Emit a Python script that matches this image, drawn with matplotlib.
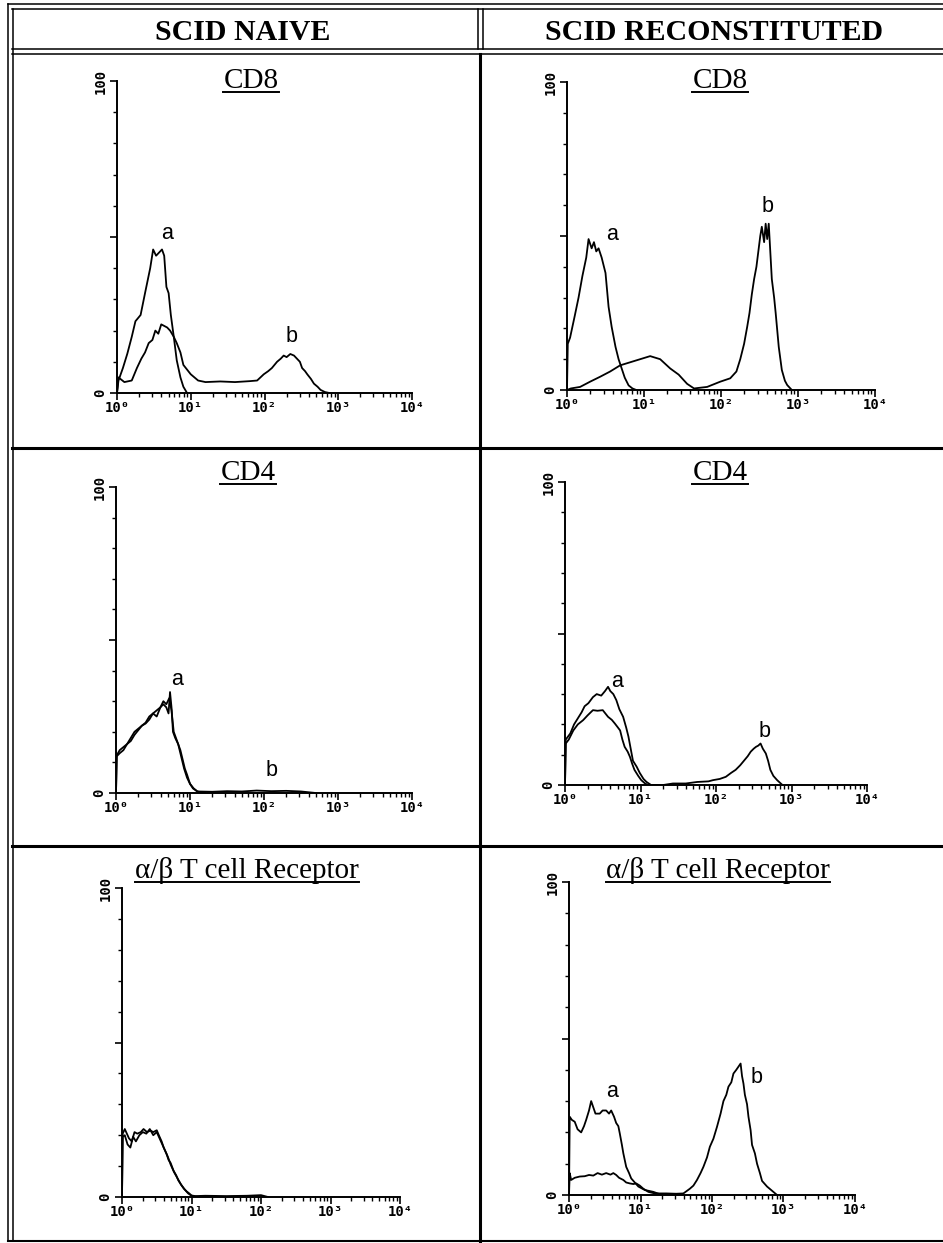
import numpy as np
import matplotlib
matplotlib.use("Agg")
import matplotlib.pyplot as plt
from matplotlib.lines import Line2D
from matplotlib.ticker import FixedLocator, NullFormatter

# ---- data (x in log10 decades, y in % of max channel) ----
col_titles = ["SCID NAIVE", "SCID RECONSTITUTED"]
row_titles = ["CD8", "CD4", "\u03b1/\u03b2 T cell Receptor"]
xtick_labels = ["10\u2070", "10\u00b9", "10\u00b2", "10\u00b3", "10\u2074"]

# SCID naive, CD8
naive_cd8_ctrl_dec = [0, 0.02, 0.08, 0.14, 0.2, 0.25, 0.32, 0.38, 0.45, 0.49, 0.53, 0.57, 0.61, 0.64,
                      0.67, 0.7, 0.73, 0.77, 0.81, 0.86, 0.9, 0.95]
naive_cd8_ctrl = [0, 4, 8, 12.6, 18, 23, 25, 32, 40, 46, 44, 45, 46, 44, 34, 32, 25, 18, 10.5, 5, 2, 0]
naive_cd8_smp_dec = [0, 0.02, 0.1, 0.2, 0.27, 0.33, 0.38, 0.43, 0.48, 0.52, 0.56, 0.6, 0.64, 0.68,
                     0.72, 0.77, 0.81, 0.86, 0.9, 0.95, 1.0, 1.05, 1.1, 1.2, 1.4, 1.6, 1.8, 1.9,
                     1.99, 2.05, 2.1, 2.17, 2.22, 2.26, 2.3, 2.35, 2.4, 2.44, 2.48, 2.51, 2.55,
                     2.58, 2.63, 2.67, 2.72, 2.76, 2.82, 2.88]
naive_cd8_smp = [0, 5, 3.5, 4, 8, 11, 13, 16, 17, 20, 19, 22, 21.5, 21, 20, 18, 16, 13, 9, 7.5, 6,
                 5, 4, 3.5, 3.7, 3.5, 3.8, 4, 6, 7, 8, 10, 11, 12, 11.5, 12.5, 12, 11, 10, 8, 7, 6,
                 4.5, 3, 2, 1, 0.3, 0]

# SCID reconstituted, CD8
recon_cd8_ctrl_dec = [0, 0.01, 0.04, 0.1, 0.15, 0.2, 0.25, 0.28, 0.32, 0.35, 0.38, 0.41, 0.45, 0.5,
                      0.54, 0.58, 0.63, 0.67, 0.71, 0.75, 0.8, 0.85, 0.9]
recon_cd8_ctrl = [0, 15, 17, 24, 30, 37, 43, 49, 46, 48, 45, 46, 43, 38, 27, 20.5, 14, 10, 7, 4,
                  1.5, 0.5, 0]
recon_cd8_smp_dec = [0, 0.05, 0.17, 0.3, 0.43, 0.56, 0.69, 0.82, 0.95, 1.08, 1.21, 1.34, 1.45, 1.56,
                     1.65, 1.82, 1.99, 2.12, 2.2, 2.25, 2.3, 2.34, 2.37, 2.4, 2.43, 2.46, 2.49,
                     2.51, 2.53, 2.56, 2.58, 2.6, 2.62, 2.64, 2.66, 2.69, 2.71, 2.75, 2.79, 2.83,
                     2.86, 2.92]
recon_cd8_smp = [0, 0.5, 1, 2.7, 4.3, 6, 8, 9, 10, 11, 10, 7, 5, 2, 0.5, 1, 2.7, 3.8, 6, 10, 15,
                 20.5, 25, 31, 36, 40, 46, 50, 53, 48, 54, 49, 54, 45, 36, 30, 25, 14, 6.5, 3,
                 1.6, 0]

# SCID naive, CD4
naive_cd4_ctrl_dec = [0, 0.01, 0.05, 0.1, 0.15, 0.2, 0.25, 0.3, 0.35, 0.4, 0.45, 0.5, 0.55, 0.6,
                      0.64, 0.68, 0.71, 0.73, 0.75, 0.77, 0.8, 0.84, 0.88, 0.92, 0.96, 1.0, 1.04,
                      1.1, 1.3, 1.5, 1.7, 1.9, 2.1, 2.3, 2.5, 2.7]
naive_cd4_ctrl = [0, 12, 13, 14, 16, 17, 19, 20.5, 22, 22.7, 24, 26, 25, 28, 29, 28, 26, 33, 28,
                  20, 18, 16, 12, 8, 5, 3, 1.5, 0.5, 0.4, 0.6, 0.5, 0.8, 0.6, 0.7, 0.5, 0]
naive_cd4_smp_dec = [0, 0.01, 0.05, 0.1, 0.15, 0.2, 0.25, 0.3, 0.35, 0.4, 0.45, 0.5, 0.55, 0.6,
                     0.64, 0.68, 0.72, 0.75, 0.78, 0.81, 0.84, 0.87, 0.9, 0.93, 0.96, 1.0, 1.05,
                     1.1, 1.2]
naive_cd4_smp = [0, 12.3, 14, 15, 16, 18, 20, 21, 22, 23, 25, 26, 27, 28, 30, 29, 31, 27, 20, 18,
                 16, 14, 11, 8, 6, 3, 1.5, 0.5, 0]

# SCID reconstituted, CD4
recon_cd4_ctrl_dec = [0, 0.01, 0.07, 0.12, 0.17, 0.22, 0.26, 0.31, 0.37, 0.42, 0.48, 0.53, 0.57,
                      0.6, 0.64, 0.68, 0.72, 0.77, 0.81, 0.84, 0.87, 0.9, 0.95, 0.99, 1.04, 1.08,
                      1.14]
recon_cd4_ctrl = [0, 15, 17, 20, 22, 24, 26, 27, 29, 30, 29.5, 31, 32.4, 31, 30, 28, 25, 22.5, 19,
                  16, 12, 8, 6, 4, 2, 1, 0]
recon_cd4_smp_dec = [0, 0.01, 0.05, 0.11, 0.17, 0.24, 0.3, 0.37, 0.43, 0.5, 0.57, 0.62, 0.66, 0.7,
                     0.73, 0.76, 0.79, 0.83, 0.86, 0.89, 0.92, 0.97, 1.01, 1.06, 1.1, 1.3, 1.43,
                     1.6, 1.75, 1.9, 1.96, 2.05, 2.13, 2.2, 2.26, 2.32, 2.37, 2.42, 2.46, 2.5,
                     2.53, 2.56, 2.59, 2.62, 2.66, 2.69, 2.72, 2.76, 2.81, 2.88]
recon_cd4_smp = [0, 13.7, 15, 18, 20, 21.4, 23, 24.7, 24.5, 24.7, 22.5, 21.5, 20.3, 19, 18, 15,
                 12.6, 11, 9.3, 7, 5, 3, 1.6, 0.5, 0, 0, 0.5, 0.5, 1, 1.2, 1.6, 2, 2.7, 4, 5, 6.5,
                 8, 9.5, 11, 12, 12.6, 13, 13.7, 12, 10.4, 8, 5, 3, 1.6, 0]

# SCID naive, a/b TCR
naive_tcr_ctrl_dec = [0, 0.01, 0.04, 0.07, 0.1, 0.14, 0.18, 0.22, 0.27, 0.31, 0.36, 0.41, 0.45,
                      0.5, 0.53, 0.57, 0.6, 0.64, 0.67, 0.7, 0.74, 0.78, 0.81, 0.85, 0.89, 0.93,
                      0.96, 1.0, 1.05, 1.2, 1.5, 1.8, 2.0, 2.1]
naive_tcr_ctrl = [0, 20.5, 22, 20.5, 19, 18, 21, 20.5, 21, 22, 21, 21.5, 21, 21.6, 20, 18, 16, 14,
                  12, 11, 8.6, 7, 5.4, 4, 2.7, 1.8, 1.3, 0.5, 0.3, 0.4, 0.3, 0.4, 0.6, 0]
naive_tcr_smp_dec = [0, 0.01, 0.04, 0.08, 0.12, 0.16, 0.2, 0.25, 0.3, 0.35, 0.4, 0.45, 0.5, 0.54,
                     0.58, 0.62, 0.66, 0.7, 0.75, 0.8, 0.85, 0.9, 0.95, 1.0, 1.1]
naive_tcr_smp = [0, 19.5, 20, 17, 16, 19.5, 18, 20, 21, 20.5, 22, 20, 21, 19, 17, 15, 13, 10.5,
                 8, 6, 4, 2.5, 1.2, 0.4, 0]

# SCID reconstituted, a/b TCR
recon_tcr_ctrl_dec = [0, 0.01, 0.04, 0.08, 0.12, 0.17, 0.21, 0.24, 0.28, 0.31, 0.34, 0.37, 0.4,
                      0.43, 0.47, 0.52, 0.56, 0.59, 0.63, 0.66, 0.69, 0.71, 0.74, 0.76, 0.8, 0.84,
                      0.87, 0.92, 0.97, 1.06, 1.18, 1.3]
recon_tcr_ctrl = [0, 25, 24, 23.4, 21, 20, 22, 24, 27, 30, 28, 26, 26, 26, 27, 27, 26, 27, 25, 23,
                  22, 19.7, 16, 13.3, 9, 7, 5.3, 4, 2.7, 1.6, 1, 0]
recon_tcr_smp_dec = [0, 0.01, 0.03, 0.08, 0.15, 0.22, 0.28, 0.34, 0.4, 0.46, 0.52, 0.58, 0.62,
                     0.66, 0.7, 0.76, 0.8, 0.85, 0.9, 0.94, 0.99, 1.04, 1.11, 1.2, 1.36, 1.5, 1.6,
                     1.69, 1.74, 1.79, 1.84, 1.88, 1.93, 1.97, 2.02, 2.07, 2.12, 2.16, 2.2, 2.23,
                     2.27, 2.3, 2.34, 2.37, 2.4, 2.42, 2.44, 2.46, 2.49, 2.51, 2.54, 2.56, 2.6,
                     2.63, 2.67, 2.7, 2.77, 2.91]
recon_tcr_smp = [0, 7, 4.8, 5.5, 5.9, 6, 6.4, 6.2, 7, 6.5, 7, 6.5, 7, 6.4, 5.5, 4.8, 4, 3.7, 3.5,
                 3.7, 3, 2, 1, 0.5, 0.5, 0.4, 0.5, 2, 3, 4.8, 7, 9, 12, 15.4, 18, 21.8, 26, 30, 32,
                 34.6, 36, 38.8, 40, 41, 42, 38, 35.6, 32, 29, 25, 20.7, 16, 13.3, 10, 7, 4.5,
                 2.7, 0]

# peak labels: (text, decade, height)
naive_cd8_labels = [("a", 0.68, 51), ("b", 2.37, 18)]
recon_cd8_labels = [("a", 0.58, 50.5), ("b", 2.6, 59.5)]
naive_cd4_labels = [("a", 0.82, 37), ("b", 2.1, 7.5)]
recon_cd4_labels = [("a", 0.69, 34), ("b", 2.64, 17.5)]
naive_tcr_labels = []
recon_tcr_labels = [("a", 0.6, 33), ("b", 2.63, 37.4)]

W, H = 943, 1243
fig = plt.figure(figsize=(W / 100, H / 100), dpi=100)


def fx(px):
    return px / W


def fy(py):
    return 1 - py / H


def hline(y, x0, x1, lw):
    fig.add_artist(Line2D([fx(x0), fx(x1)], [fy(y), fy(y)], color="black", lw=lw))


def vline(x, y0, y1, lw):
    fig.add_artist(Line2D([fx(x), fx(x)], [fy(y0), fy(y1)], color="black", lw=lw))


# table frame
hline(4, 8, W, 1.1)
hline(9, 12, W, 1.1)
hline(49, 12, W, 1.1)
hline(54, 12, W, 1.1)
hline(448, 12, W, 2.2)
hline(846, 12, W, 2.2)
hline(1241, 8, W, 1.5)
vline(8, 4, 1241, 1.1)
vline(12.5, 9, 1241, 1.1)
vline(478, 9, 49, 1.1)
vline(483, 9, 49, 1.1)
vline(480, 54, 1241, 2.2)

for txt, cx in zip(col_titles, [243, 714]):
    fig.text(fx(cx), fy(40), txt, ha="center", va="baseline",
             family="Liberation Serif", weight="bold", fontsize=21.5)

# panel boxes in pixels: x0, x1, top, bottom
panel_boxes = [
    [(117, 412, 81, 393), (567, 875, 82, 390)],
    [(116, 412, 487, 793), (565, 867, 482, 785)],
    [(122, 400, 888, 1197), (569, 855, 882, 1195)],
]
title_pos = [
    [(251, 88), (720, 88)],
    [(248, 480), (720, 480)],
    [(247, 878), (718, 878)],
]
curves = [
    [[(naive_cd8_ctrl_dec, naive_cd8_ctrl), (naive_cd8_smp_dec, naive_cd8_smp)],
     [(recon_cd8_ctrl_dec, recon_cd8_ctrl), (recon_cd8_smp_dec, recon_cd8_smp)]],
    [[(naive_cd4_ctrl_dec, naive_cd4_ctrl), (naive_cd4_smp_dec, naive_cd4_smp)],
     [(recon_cd4_ctrl_dec, recon_cd4_ctrl), (recon_cd4_smp_dec, recon_cd4_smp)]],
    [[(naive_tcr_ctrl_dec, naive_tcr_ctrl), (naive_tcr_smp_dec, naive_tcr_smp)],
     [(recon_tcr_ctrl_dec, recon_tcr_ctrl), (recon_tcr_smp_dec, recon_tcr_smp)]],
]
labels = [
    [naive_cd8_labels, recon_cd8_labels],
    [naive_cd4_labels, recon_cd4_labels],
    [naive_tcr_labels, recon_tcr_labels],
]

titles = []
for r in range(3):
    for c in range(2):
        x0, x1, top, bot = panel_boxes[r][c]
        ax = fig.add_axes([fx(x0), fy(bot), (x1 - x0) / W, (bot - top) / H])
        for dec, h in curves[r][c]:
            ax.plot(10 ** np.array(dec), h, color="black", lw=1.3)
        for s, d, yv in labels[r][c]:
            ax.text(10 ** d, yv, s, ha="center", va="center",
                    family="Liberation Sans", fontsize=15.5)

        ax.set_xscale("log")
        ax.set_xlim(1, 1e4)
        ax.set_ylim(0, 100)
        for sp in ["top", "right"]:
            ax.spines[sp].set_visible(False)
        for sp in ["left", "bottom"]:
            ax.spines[sp].set_linewidth(1.4)

        ax.set_xticks([1, 10, 100, 1000, 10000])
        ax.set_xticklabels(xtick_labels, family="DejaVu Sans Mono", weight="bold", fontsize=10)
        ax.xaxis.set_minor_locator(FixedLocator(
            [m * 10 ** e for e in range(4) for m in range(2, 10)]))
        ax.xaxis.set_minor_formatter(NullFormatter())
        ax.tick_params(axis="x", which="major", direction="out", length=5, width=1.2, pad=1)
        ax.tick_params(axis="x", which="minor", direction="out", length=3, width=1)

        ax.set_yticks([0, 50, 100])
        ax.set_yticklabels(["0", "", "100"], rotation=90, va="center",
                           family="DejaVu Sans Mono", weight="bold", fontsize=10)
        ax.yaxis.set_minor_locator(FixedLocator([10, 20, 30, 40, 60, 70, 80, 90]))
        ax.tick_params(axis="y", which="major", direction="out", length=5, width=1.2, pad=2)
        ax.tick_params(axis="y", which="minor", direction="out", length=3, width=1)

        tx, ty = title_pos[r][c]
        t = fig.text(fx(tx), fy(ty), row_titles[r], ha="center", va="baseline",
                     family="Liberation Serif", fontsize=21)
        titles.append((t, ty))

# underline the panel titles
fig.canvas.draw()
for t, ty in titles:
    bb = t.get_window_extent()
    hline(ty + 4, bb.x0, bb.x1, 1.4)

fig.savefig("out.png", dpi=100)
